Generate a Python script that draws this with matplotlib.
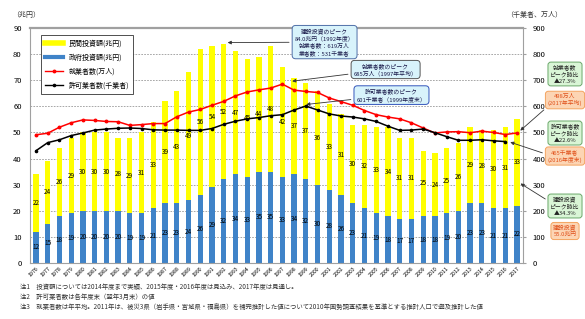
# 建設投資額・就業者数・許可業者数の推移

import matplotlib
matplotlib.use('Agg')
import matplotlib.pyplot as plt
from matplotlib.lines import Line2D

plt.rcParams['font.family'] = ['Noto Sans CJK JP', 'DejaVu Sans']

years = list(range(1976, 2018))
# 政府投資額（兆円）
gov = [12, 15, 18, 19, 20, 20, 20, 20, 19, 19, 21, 23, 23, 24, 26, 29, 32, 34, 33, 35, 35,
       33, 34, 32, 30, 28, 26, 23, 21, 19, 18, 17, 17, 18, 18, 19, 20, 23, 23, 21, 21, 22]
# 民間投資額（兆円）
priv = [22, 24, 26, 29, 30, 30, 30, 28, 29, 31, 33, 39, 43, 49, 56, 54, 52, 47, 45, 44, 48,
        42, 37, 37, 36, 33, 31, 30, 32, 33, 34, 31, 31, 25, 24, 25, 26, 29, 28, 30, 31, 33]
# 就業者数（万人）
workers = [491, 497, 520, 537, 548, 546, 542, 541, 527, 530, 534, 534, 560, 578, 588, 604,
           619, 640, 655, 663, 670, 685, 662, 657, 653, 632, 618, 604, 584, 568, 559, 552,
           537, 517, 498, 502, 503, 499, 505, 500, 492, 498]
# 許可業者数（千業者）, 2016年度まで
firms = [430, 461, 472, 488, 498, 509, 513, 516, 517, 515, 510, 509, 509, 508, 508, 515,
         531, 543, 552, 557, 564, 568, 586, 601, 586, 571, 563, 559, 552, 542, 524, 508,
         509, 513, 499, 484, 470, 470, 472, 468, 465]

W, H = 585, 319
fig = plt.figure(figsize=(W / 100, H / 100), dpi=100)
ax = fig.add_axes([30 / W, 1 - 263 / H, (523 - 30) / W, (263 - 28) / H])
x = list(range(len(years)))

ax.bar(x, gov, width=0.45, color='#3f83c8', zorder=2)
ax.bar(x, priv, width=0.45, bottom=gov, color='#ffff00', zorder=2)
for i in x:
    ax.text(i, gov[i] / 2, str(gov[i]), ha='center', va='center', fontsize=4.6, zorder=3)
    ax.text(i, gov[i] + priv[i] / 2, str(priv[i]), ha='center', va='center', fontsize=4.6, zorder=3)

ax.set_xlim(-0.51, len(years) - 0.49)
ax.set_ylim(0, 90)
ax.set_yticks(range(0, 91, 10))
ax.set_xticks(x)
ax.set_xticklabels([str(y) for y in years], rotation=45, ha='right', va='top',
                   rotation_mode='anchor', fontsize=3.8)
ax.tick_params(axis='x', length=0, pad=2)
ax.tick_params(axis='y', length=0, labelsize=5.5, pad=6)
ax.grid(axis='y', linestyle=(0, (2, 1.5)), color='#999999', linewidth=0.6, zorder=0)
for s in ax.spines.values():
    s.set_color('#a0a0a0')
ax.spines['top'].set_linewidth(1.6)

ax2 = ax.twinx()
ax2.set_ylim(0, 900)
ax2.set_yticks(range(0, 901, 100))
ax2.tick_params(axis='y', length=2, labelsize=5.5, color='#a0a0a0', pad=5)
for s in ax2.spines.values():
    s.set_visible(False)
ax2.plot(x, workers, color='#ff0000', lw=1.1, marker='o', ms=1.8, zorder=4)
ax2.plot(x[:len(firms)], firms, color='#000000', lw=1.1, marker='o', ms=1.6, zorder=4)

fig.text(12 / W, 1 - 15 / H, '（兆円）', fontsize=5, va='center', color='#333333')
fig.text(506 / W, 1 - 15 / H, '（千業者、万人）', fontsize=5, va='center', color='#333333')

handles = [Line2D([], [], color='#ffff00', lw=4),
           Line2D([], [], color='#3f83c8', lw=3),
           Line2D([], [], color='#ff0000', lw=1, marker='o', ms=1.8),
           Line2D([], [], color='#000000', lw=1, marker='o', ms=1.6)]
labels = ['民間投資額(兆円)', '政府投資額(兆円)', '就業者数(万人)', '許可業者数(千業者)']
leg = ax2.legend(handles, labels, loc='upper left', bbox_to_anchor=(0.015, 0.985),
                 fontsize=5, fancybox=False, edgecolor='#333333', framealpha=1,
                 handlelength=2.6, labelspacing=0.9, borderpad=0.6)
leg.get_frame().set_linewidth(0.6)

# 吹き出し（グラフ内）
def callout(text, tip, pos, ec):
    ax2.annotate(text, xy=tip, xytext=pos, ha='center', va='center', fontsize=4.2,
                 linespacing=1.35, color='#1a1a4a', zorder=6,
                 bbox=dict(boxstyle='round,pad=0.45,rounding_size=0.6', fc='#d8f3fb', ec=ec, lw=0.7),
                 arrowprops=dict(arrowstyle='-|>', color='#333333', lw=0.6, mutation_scale=5))

callout('建設投資のピーク\n84.0兆円（1992年度）\n就業者数：619万人\n業者数：531千業者',
        (16.1, 844), (24.6, 846), '#4f6fa8')
callout('就業者数のピーク\n685万人（1997年平均）', (21.6, 695), (29.8, 741), '#555555')
callout('許可業者数のピーク\n601千業者（1999年度末）', (22.8, 606), (30.3, 643), '#3355bb')

# 右側の枠
def side_box(text, cy, green, tip=None, rel=(0, 0.5)):
    fc, ec, tc = ('#d9f5d6', '#6aa86a', '#222222') if green else ('#fcd5b4', '#f4a460', '#e0501a')
    kw = dict(xytext=(565 / W, 1 - cy / H), textcoords='figure fraction', ha='center',
              va='center', fontsize=4.2, linespacing=1.35, color=tc, zorder=6,
              annotation_clip=False,
              bbox=dict(boxstyle='round,pad=0.4,rounding_size=0.5', fc=fc, ec=ec, lw=0.7))
    if tip is None:
        ax2.annotate(text, xy=(565 / W, 1 - cy / H), xycoords='figure fraction', **kw)
    else:
        ax2.annotate(text, xy=tip, xycoords='data',
                     arrowprops=dict(arrowstyle='-|>', color='#333333', lw=0.6,
                                     mutation_scale=5, relpos=rel), **kw)

side_box('就業者数\nピーク時比\n▲27.3%', 74, True)
side_box('498万人\n(2017年平均)', 100, False, (41.1, 500), (0, 0))
side_box('許可業者数\nピーク時比\n▲22.6%', 133, True)
side_box('465千業者\n(2016年度末)', 156, False, (40.2, 466), (0, 0.6))
side_box('建設投資\nピーク時比\n▲34.3%', 206, True, (41.1, 310), (0, 0.7))
side_box('建設投資\n55.0兆円', 231, False)

notes = ['注1　投資額については2014年度まで実績、2015年度・2016年度は見込み、2017年度は見通し。',
         '注2　許可業者数は各年度末（翌年3月末）の値',
         '注3　就業者数は年平均。2011年は、被災3県（岩手県・宮城県・福島県）を補完推計した値について2010年国勢調査結果を基準とする推計人口で遡及推計した値']
for k, t in enumerate(notes):
    fig.text(20 / W, 1 - (287 + 10 * k) / H, t, fontsize=4.6, va='center', color='#333333')

fig.savefig('out.png', dpi=100, facecolor='white')
